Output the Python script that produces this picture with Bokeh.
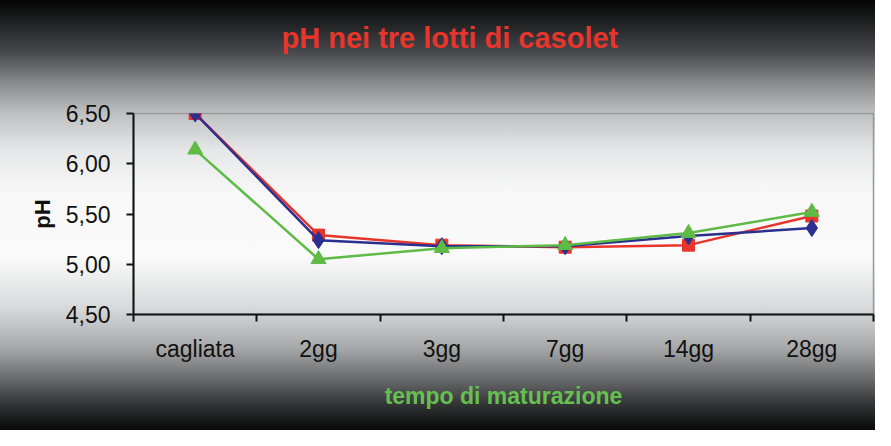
from bokeh.plotting import figure
from bokeh.models import Range1d, FixedTicker, CustomJSTickFormatter, Title
from bokeh.embed import file_html
from bokeh.resources import INLINE

categories = ["cagliata", "2gg", "3gg", "7gg", "14gg", "28gg"]
lotto1 = [6.50, 5.24, 5.18, 5.18, 5.28, 5.36]
lotto2 = [6.50, 5.29, 5.19, 5.17, 5.19, 5.48]
lotto3 = [6.14, 5.05, 5.16, 5.19, 5.31, 5.52]
yticks = [4.5, 5.0, 5.5, 6.0, 6.5]

xs = [i + 0.5 for i in range(len(categories))]

p = figure(width=875, height=430, output_backend="svg", toolbar_location=None,
           x_range=Range1d(0, len(categories)), y_range=Range1d(yticks[0], yticks[-1]),
           min_border_left=133, min_border_right=2, min_border_top=113, min_border_bottom=116)
p.styles = {"background": "linear-gradient(to bottom, #050505 0%, #1e1f20 5%, #45474b 12%, "
                          "#868889 19%, #bdbec0 26%, #e6e7e8 35%, #f8f8f8 45%, #fafafa 60%, "
                          "#d6d7d8 72%, #a6a7a9 81%, #6a6b6d 88%, #333435 94%, #080808 100%)"}
p.border_fill_color = None
p.background_fill_color = None
p.outline_line_color = "#9a9a9a"
p.outline_line_width = 1.5
p.xgrid.visible = False
p.ygrid.visible = False

# empty spacer between the frame and the title
spacer = Title(text=" ", text_font_size="10px", standoff=29)
p.add_layout(spacer, "above")
t = Title(text="pH nei tre lotti di casolet", align="left", offset=148, standoff=35,
          text_color="#e8352c", text_font="Liberation Sans", text_font_size="29px",
          text_font_style="bold")
p.add_layout(t, "above")

# x axis
xa = p.xaxis[0]
xa.ticker = FixedTicker(ticks=xs, minor_ticks=list(range(len(categories) + 1)))
xa.formatter = CustomJSTickFormatter(args=dict(labels=categories),
                                     code="return labels[Math.floor(tick)] || ''")
xa.major_tick_out = 0
xa.major_tick_in = 0
xa.minor_tick_out = 7
xa.minor_tick_in = 0
xa.minor_tick_line_color = "#111111"
xa.minor_tick_line_width = 2
xa.axis_line_color = "#111111"
xa.axis_line_width = 2
xa.major_label_standoff = 14
xa.major_label_text_font = "Liberation Sans"
xa.major_label_text_font_size = "23px"
xa.major_label_text_color = "#111111"
xa.axis_label = "tempo di maturazione"
xa.axis_label_text_color = "#66c050"
xa.axis_label_text_font = "Liberation Sans"
xa.axis_label_text_font_size = "23px"
xa.axis_label_text_font_style = "bold"
xa.axis_label_standoff = 18

# y axis
ya = p.yaxis[0]
ya.ticker = FixedTicker(ticks=yticks, minor_ticks=[])
ya.formatter = CustomJSTickFormatter(code="return tick.toFixed(2).replace('.', ',')")
ya.major_tick_out = 7
ya.major_tick_in = 0
ya.major_tick_line_color = "#111111"
ya.major_tick_line_width = 2
ya.axis_line_color = "#111111"
ya.axis_line_width = 2
ya.major_label_standoff = 16
ya.major_label_text_font = "Liberation Sans"
ya.major_label_text_font_size = "23px"
ya.major_label_text_color = "#111111"
ya.axis_label = "pH"
ya.axis_label_text_color = "#111111"
ya.axis_label_text_font = "Liberation Sans"
ya.axis_label_text_font_size = "22px"
ya.axis_label_text_font_style = "bold"
ya.axis_label_standoff = 8

blue, red, green = "#2b2f8f", "#e8352c", "#5dbb46"

p.line(xs, lotto2, line_color=red, line_width=2.5)
p.scatter(xs, lotto2, marker="square", size=12, fill_color=red, line_color=red)
p.line(xs, lotto1, line_color=blue, line_width=2.5)
p.scatter(xs, lotto1, marker="diamond", size=17, fill_color=blue, line_color=blue)
p.line(xs, lotto3, line_color=green, line_width=2.5)
p.scatter(xs, lotto3, marker="triangle", size=15, fill_color=green, line_color=green)

open("out.html", "w").write(file_html(p, INLINE))
